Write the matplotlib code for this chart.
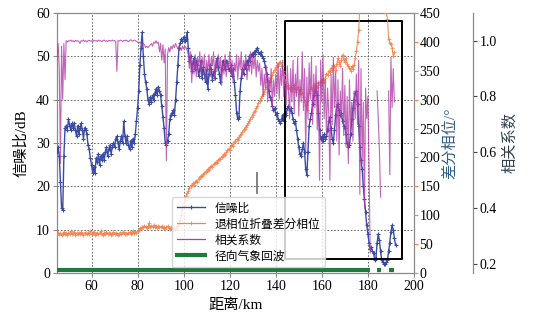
import numpy as np
import matplotlib
matplotlib.use("Agg")
import matplotlib.pyplot as plt
from matplotlib.lines import Line2D

plt.rcParams["font.family"] = ["Liberation Serif", "Noto Sans CJK SC"]
plt.rcParams["axes.unicode_minus"] = False

nan = np.nan

# signal-to-noise ratio (dB), one value every 0.5 km starting at 45 km
snr = [
    28, 29, 27, 21, 15, 14.5, 27, 33.5, 34, 33,
    35.5, 34, 33, 34.5, 33.5, 34.5, 33, 31.5, 34, 32,
    33.5, 34.5, 33, 31, 33.5, 33, 32, 29.5, 28.5, 26.5,
    25, 23, 24.5, 23, 26.5, 25.5, 27.5, 25, 27, 26,
    27.5, 26, 28, 29, 27, 28.5, 29.5, 27.5, 29, 30,
    29, 31, 31.5, 30, 28.5, 30.5, 31.5, 30, 35, 31.5,
    30, 31.5, 29.5, 28.5, 30.5, 29, 31, 30, 32, 35,
    38, 42, 48, 52, 55.5, 50, 46, 44, 42.5, 40,
    39, 40.5, 39.5, 41, 40, 41.5, 42.5, 41, 43, 42,
    41, 38.5, 36, 33.5, 30, 29.5, 30.5, 32, 35.5, 36.5,
    37, 37.5, 36.5, 40, 44, 48, 52, 53, 54, 53.5,
    54.5, 53.5, 54, 55.5, 52, 49, 50, 46.5, 48.5, 49.5,
    47, 49, 48, 45.5, 47, 49, 45, 47.5, 46, 44,
    47, 42.5, 46, 48, 47, 44.5, 46.5, 45, 48, 49.5,
    47.5, 46, 44, 47, 49, 48, 47, 49, 48.5, 47,
    46.5, 48, 45.5, 47, 44, 41, 37, 35.5, 36, 42,
    45, 47, 46, 48, 47, 49, 48, 50, 49, 50.5,
    50, 51, 50.5, 51.5, 52, 51, 50.5, 51, 50, 49.5,
    49, 47.5, 46, 44, 42, 40.5, 40, 38.5, 37.5, 38,
    36.5, 37, 35.5, 35, 34.5, 35.5, 36.5, 35, 37, 36.5,
    38, 38.5, 37.5, 38, 37, 35.5, 34.5, 35, 33, 31,
    29, 27.5, 27, 28.5, 30, 28, 24, 22.5, 28, 34,
    35.5, 37, 39, 41, 42, 43, 41, 37, 33, 31,
    31.5, 30.5, 32, 31, 31.5, 33, 35, 36, 33.5, 31,
    30, 33, 36.5, 38.5, 39, 37.5, 36.5, 37, 35, 34,
    33.5, 32, 30, 29, 29.5, 32, 35.5, 38, 40, 41.5,
    42, 39, 34, 29, 26, 24, 20, 17, 14, 11,
    9, 7, 5.5, 6, 5, 4.5, 3, 3.5, 7, 9,
    7.5, 5, 3, 2.5, 2, 2, 2.5, 3, 5, 7,
    9.5, 11, 10, 8, 6.5,
]

# unwrapped differential phase (deg)
phase = [
    66, 70, 67, 69, 65, 68, 71, 67, 69, 66,
    70, 68, 72, 67, 69, 71, 66, 69, 68, 70,
    67, 71, 68, 66, 70, 69, 67, 70, 68, 72,
    67, 69, 71, 66, 68, 70, 67, 69, 72, 68,
    66, 70, 68, 71, 67, 69, 70, 66, 68, 71,
    67, 69, 68, 65, 68, 70, 67, 71, 69, 68,
    70, 67, 69, 71, 68, 70, 72, 69, 71, 70,
    72, 75, 78, 77, 80, 79, 82, 80, 78, 81,
    86, 79, 82, 80, 83, 79, 81, 78, 82, 80,
    79, 81, 78, 80, 77, 79, 81, 78, 76, 79,
    77, 75, 78, 76, 79, 82, 86, 92, 100, 110,
    118, 126, 133, 138, 142, 147, 150, 152, 155, 153,
    157, 160, 158, 163, 166, 168, 167, 171, 173, 175,
    177, 180, 179, 183, 185, 184, 188, 190, 192, 191,
    195, 198, 197, 201, 203, 206, 205, 209, 212, 215,
    213, 219, 222, 220, 226, 229, 232, 230, 235, 238,
    241, 244, 247, 250, 253, 256, 259, 263, 266, 270,
    274, 278, 281, 285, 289, 294, 297, 302, 306, 309,
    313, 318, 322, 326, 330, 333, 338, 342, 347, 352,
    356, 360, 358, 363, 366, 358, 350, 342, 333, 328,
    320, 325, 318, 322, 315, 320, 326, 318, 313, 322,
    316, 310, 318, 312, 305, 298, 290, 282, 300, 312,
    318, 322, 315, 325, 320, 328, 322, 330, 326, 333,
    328, 335, 330, 338, 345, 342, 350, 347, 355, 352,
    360, 358, 352, 362, 372, 365, 358, 368, 378, 370,
    365, 372, 362, 358, 355, 350, 358, 353, 360, 372,
    385, 400, 420, 460, nan, nan, nan, nan, nan, nan,
    nan, nan, nan, nan, nan, nan, nan, nan, nan, nan,
    nan, nan, nan, nan, nan, nan, 450, 440, 405, 398,
    396, 390, 375, 382, nan,
]

# correlation coefficient
corr = [
    0.93, 0.99, 0.90, 0.56, 0.98, 0.79, 0.99, 0.86, 1.0, 0.995,
    1.0, 0.998, 1.002, 0.997, 1.0, 0.995, 1.001, 0.998, 1.0, 0.996,
    0.99, 1.0, 0.998, 1.002, 0.997, 1.0, 0.995, 1.0, 1.001, 0.998,
    1.0, 0.996, 1.002, 0.999, 1.0, 0.997, 1.002, 0.999, 1.0, 0.996,
    1.0, 1.002, 0.998, 1.0, 0.997, 1.001, 1.0, 0.998, 1.002, 0.999,
    1.0, 0.997, 0.89, 1.0, 0.998, 1.002, 1.0, 0.997, 1.001, 0.999,
    1.002, 1.0, 0.996, 1.0, 1.003, 1.0, 0.998, 1.002, 1.0, 0.997,
    0.995, 0.99, 0.995, 0.99, 0.985, 0.99, 0.985, 0.975, 0.98, 0.975,
    0.98, 0.985, 0.99, 0.98, 0.995, 0.99, 1.0, 0.99, 0.995, 0.96,
    0.99, 0.93, 0.985, 0.92, 0.97, 0.57, 0.95, 0.975, 0.96, 0.98,
    0.97, 0.985, 0.975, 0.99, 0.98, 0.97, 0.98, 0.975, 0.965, 0.98,
    0.97, 0.98, 0.975, 0.965, 0.95, 0.90, 0.96, 0.85, 0.93, 0.88,
    0.95, 0.87, 0.94, 0.91, 0.96, 0.88, 0.94, 0.90, 0.95, 0.86,
    0.93, 0.89, 0.95, 0.87, 0.94, 0.91, 0.96, 0.86, 0.93, 0.89,
    0.95, 0.90, 0.94, 0.84, 0.92, 0.88, 0.95, 0.87, 0.93, 0.90,
    0.96, 0.88, 0.93, 0.85, 0.92, 0.89, 0.95, 0.86, 0.94, 0.90,
    0.96, 0.87, 0.93, 0.90, 0.95, 0.86, 0.92, 0.89, 0.96, 0.88,
    0.94, 0.90, 0.95, 0.87, 0.93, 0.89, 0.92, 0.84, 0.90, 0.80,
    0.88, 0.83, 0.91, 0.78, 0.87, 0.82, 0.90, 0.76, 0.86, 0.80,
    0.88, 0.81, 0.92, 0.79, 0.90, 0.84, 0.93, 0.80, 0.89, 0.77,
    0.91, 0.83, 0.72, 0.90, 0.78, 0.93, 0.74, 0.88, 0.80, 0.94,
    0.73, 0.86, 0.78, 0.96, 0.75, 0.90, 0.60, 0.87, 0.72, 0.92,
    0.79, 0.94, 0.70, 0.88, 0.76, 0.91, 0.68, 0.85, 0.50, 0.93,
    0.78, 0.95, 0.72, 0.86, 0.66, 0.83, 0.74, 0.50, 0.88, 0.70,
    0.94, 0.76, 0.89, 0.64, 0.86, 0.59, 0.82, 0.72, 0.90, 0.66,
    0.84, 0.62, 0.80, 0.56, 0.86, 0.68, 0.78, 0.64, 0.82, 0.72,
    0.88, 0.70, 0.93, 0.45, 0.90, 0.56, 0.78, 0.40, 0.83, 0.72,
    0.80, 0.55, 0.24, nan, nan, nan, nan, nan, 0.82, 0.72,
    0.61, 0.44, nan, nan, nan, nan, nan, nan, 0.82, 0.52,
    0.94, 0.76, 0.90, 0.78, nan,
]

km = 45 + 0.5 * np.arange(len(snr))

# radial weather echo mask (segments drawn near 0 dB)
echo_km = [45, 181, nan, 184, 185.5, nan, 189, 191.5]
echo_lvl = [0.6, 0.6, nan, 0.6, 0.6, nan, 0.6, 0.6]

# highlighted region and the small grey tick in the middle
box_km = [144, 195]
box_snr = [3.2, 58.2]
tick_km = [132, 132]
tick_snr = [18.5, 23.0]

c_snr = "#3a4ca2"
c_phase = "#f7834f"
c_corr = "#b23da9"
c_echo = "#1f7a3c"
c_spine = "#8a8a8a"

fig = plt.figure(figsize=(5.36, 3.22), dpi=100)
ax = fig.add_axes([0.1063, 0.1522, 0.666, 0.8075])
ax2 = ax.twinx()
ax3 = ax.twinx()
ax3.spines["right"].set_position(("axes", 1.165))

ax.plot(km, snr, color=c_snr, lw=1.0, marker="+", ms=3.5, mew=0.8, zorder=3)
ax.plot(echo_km, echo_lvl, color=c_echo, lw=3, solid_capstyle="butt", zorder=4)
ax.plot(tick_km, tick_snr, color="#777777", lw=1.3, zorder=2)
ax.plot([box_km[0], box_km[1], box_km[1], box_km[0], box_km[0]],
        [box_snr[0], box_snr[0], box_snr[1], box_snr[1], box_snr[0]],
        color="black", lw=1.4, zorder=5, clip_on=False)

ax2.plot(km, phase, color=c_phase, lw=0.8, marker="+", ms=2.5, mew=0.6, alpha=0.9)
ax3.plot(km, corr, color=c_corr, lw=0.8, alpha=0.8)

ax.set_xlim(45, 200)
ax.set_ylim(0, 60)
ax.set_xticks(np.arange(60, 201, 20))
ax.set_yticks(np.arange(0, 61, 10))
ax2.set_ylim(0, 450)
ax2.set_yticks(np.arange(0, 451, 50))
ax3.set_ylim(0.168, 1.099)
ax3.set_yticks([0.2, 0.4, 0.6, 0.8, 1.0])
ax3.set_yticklabels(["0.2", "0.4", "0.6", "0.8", "1.0"])

ax.grid(True, color="#555555", lw=0.6, linestyle=(0, (2, 2)))

for a in (ax, ax2, ax3):
    for s in a.spines.values():
        s.set_color(c_spine)
        s.set_linewidth(0.9)
for s in ("left", "top", "bottom"):
    ax2.spines[s].set_visible(False)
    ax3.spines[s].set_visible(False)
ax2.spines["right"].set_visible(False)

ax.tick_params(axis="both", labelsize=10, length=3, color=c_spine, pad=2)
ax2.tick_params(axis="y", labelsize=10, length=3, color=c_phase, pad=1)
ax3.tick_params(axis="y", labelsize=10, length=3, color="#444444", pad=2)

ax.set_xlabel("距离/km", fontsize=11, labelpad=4)
ax.set_ylabel("信噪比/dB", fontsize=11, labelpad=6)
ax2.set_ylabel("差分相位/°", fontsize=11, color="#2d5d88", labelpad=2)
ax3.set_ylabel("相关系数", fontsize=11, color="#33414f", labelpad=4)

handles = [
    Line2D([], [], color=c_snr, lw=1.0, marker="+", ms=3.5, mew=0.8),
    Line2D([], [], color=c_phase, lw=0.9, marker="+", ms=2.5, mew=0.6),
    Line2D([], [], color=c_corr, lw=0.9),
    Line2D([], [], color=c_echo, lw=3),
]
labels = ["信噪比", "退相位折叠差分相位", "相关系数", "径向气象回波"]
leg = ax3.legend(handles, labels, loc="lower left", bbox_to_anchor=(0.322, 0.023),
                 borderaxespad=0, fontsize=8.5, labelspacing=0.25,
                 handlelength=2.4, handletextpad=0.8, borderpad=0.4,
                 framealpha=0.8, edgecolor="#cccccc", prop={"family": ["Noto Sans CJK SC"], "size": 8.5})

fig.savefig("out.png", dpi=100)
